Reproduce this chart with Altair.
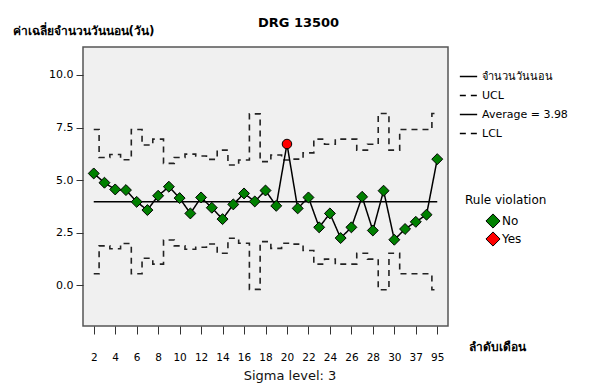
import altair as alt
import pandas as pd

months = [str(m) for m in range(2, 31)] + ["33", "37", "48", "95"]
values = [5.32, 4.88, 4.56, 4.53, 3.97, 3.58, 4.26, 4.69, 4.15, 3.42, 4.18, 3.69, 3.15, 3.85, 4.37, 3.99,
          4.51, 3.78, 6.72, 3.66, 4.18, 2.76, 3.42, 2.25, 2.76, 4.21, 2.61, 4.50, 2.17, 2.68, 3.02, 3.36, 6.00]
ucl = [7.41, 6.08, 6.22, 5.97, 7.41, 6.67, 6.95, 5.80, 6.08, 6.24, 6.15, 5.99, 6.43, 5.72, 5.96, 8.15,
       5.88, 6.20, 5.96, 6.00, 6.30, 6.95, 6.71, 6.95, 6.95, 6.43, 6.71, 8.17, 6.43, 7.41, 7.41, 7.41, 8.17]
lcl = [0.55, 1.88, 1.74, 1.99, 0.55, 1.29, 1.01, 2.16, 1.88, 1.72, 1.81, 1.97, 1.53, 2.24, 2.00, -0.19,
       2.08, 1.76, 2.00, 1.96, 1.66, 1.01, 1.25, 1.01, 1.01, 1.53, 1.25, -0.21, 1.53, 0.55, 0.55, 0.55, -0.21]
average = 3.98
violation = ["No"] * 33
violation[18] = "Yes"

S_MAIN = "จำนวนวันนอน"
S_UCL = "UCL"
S_AVG = "Average = 3.98"
S_LCL = "LCL"
series_order = [S_MAIN, S_UCL, S_AVG, S_LCL]

main_df = pd.DataFrame({"month": months, "value": values, "series": S_MAIN, "viol": violation})
avg_df = pd.DataFrame({"month": months, "value": [average] * len(months), "series": S_AVG})
lim_df = pd.concat([
    pd.DataFrame({"month": months, "value": ucl, "series": S_UCL}),
    pd.DataFrame({"month": months, "value": lcl, "series": S_LCL}),
])

FONT = "DejaVu Sans"

x_enc = alt.X("month:O", sort=months,
              scale=alt.Scale(type="point", padding=1.8),
              axis=alt.Axis(values=months[0::2], labelAngle=0, title="ลำดับเดือน", labelOverlap=False,
                            titleX=414, titleY=20, titleAnchor="middle", titleAlign="center",
                            titleBaseline="middle", titleFontWeight="bold", titleFontSize=12,
                            labelPadding=18, tickSize=8, labelFontSize=10.5, labelFont=FONT,
                            domain=False, tickColor="#333", labelColor="#000"))
y_enc = alt.Y("value:Q", scale=alt.Scale(domain=[-1.93, 11.33], nice=False, zero=False),
              axis=alt.Axis(values=[0, 2.5, 5, 7.5, 10], format=".1f", grid=False,
                            title="ค่าเฉลี่ยจำนวนวันนอน(วัน)", titleAngle=0, titleX=-71, titleY=-17,
                            titleAlign="left", titleBaseline="middle", titleFontWeight="bold",
                            titleFontSize=12, labelFontSize=11, labelFont=FONT, labelPadding=3,
                            tickSize=7, domain=False, tickColor="#333", labelColor="#000"))

dash_scale = alt.Scale(domain=series_order, range=[[1, 0], [6, 5], [1, 0], [6, 5]])
dash_legend = alt.Legend(title=None, orient="none", legendX=376, legendY=20, symbolType="stroke",
                         symbolStrokeColor="black", symbolStrokeWidth=1.5, symbolSize=300,
                         labelFontSize=11, labelFont=FONT, rowPadding=4, labelColor="#000")

main_lines = alt.Chart(pd.concat([main_df, avg_df])).mark_line(color="black", strokeWidth=1.5).encode(
    x=x_enc, y=y_enc,
    strokeDash=alt.StrokeDash("series:N", scale=dash_scale, legend=dash_legend),
)

limit_lines = alt.Chart(lim_df).mark_line(color="#222", strokeWidth=1.6, interpolate="step").encode(
    x=x_enc, y=y_enc,
    strokeDash=alt.StrokeDash("series:N", scale=dash_scale, legend=dash_legend),
)

color_enc = alt.Color("viol:N", scale=alt.Scale(domain=["No", "Yes"], range=["#008000", "#FF0000"]),
                      legend=alt.Legend(title="Rule violation", orient="none", legendX=382, legendY=148,
                                        symbolType="diamond", symbolStrokeColor="black", symbolStrokeWidth=1,
                                        symbolSize=200, titleFontWeight="normal", titleFontSize=12,
                                        titleFont=FONT, labelFont=FONT, labelFontSize=12, rowPadding=-3,
                                        labelOffset=1, titlePadding=6, symbolOffset=20,
                                        labelColor="#000", titleColor="#000"))

pts_no = alt.Chart(main_df).transform_filter(alt.datum.viol == "No").mark_point(
    filled=True, shape="diamond", size=120, stroke="black", strokeWidth=1, opacity=1).encode(
    x=x_enc, y=y_enc, color=color_enc)
pts_yes = alt.Chart(main_df).transform_filter(alt.datum.viol == "Yes").mark_point(
    filled=True, shape="circle", size=90, stroke="black", strokeWidth=1, opacity=1).encode(
    x=x_enc, y=y_enc, color=color_enc)

sigma_df = pd.DataFrame({"t": ["Sigma level:   3"]})
sigma = alt.Chart(sigma_df).mark_text(fontSize=13, font=FONT, color="#111", baseline="bottom").encode(
    x=alt.value(207), y=alt.value(336), text="t:N")

chart = alt.layer(limit_lines, main_lines, pts_no, pts_yes, sigma).properties(
    width=365, height=279,
    padding={"left": 75, "top": 39, "right": 141, "bottom": 57},
    autosize=alt.AutoSizeParams(type="none"),
    background="white",
    title=alt.TitleParams(text="DRG 13500", anchor="middle", fontSize=13, font=FONT,
                          fontWeight="bold", dx=33, dy=16, offset=10, color="#000"),
).configure_view(fill="#F0F0F0", stroke="#555", strokeWidth=1.5).configure_axis(
    titleFont=FONT, titleColor="#000")

chart.save("out.html", embed_options={"renderer": "svg", "actions": False})
